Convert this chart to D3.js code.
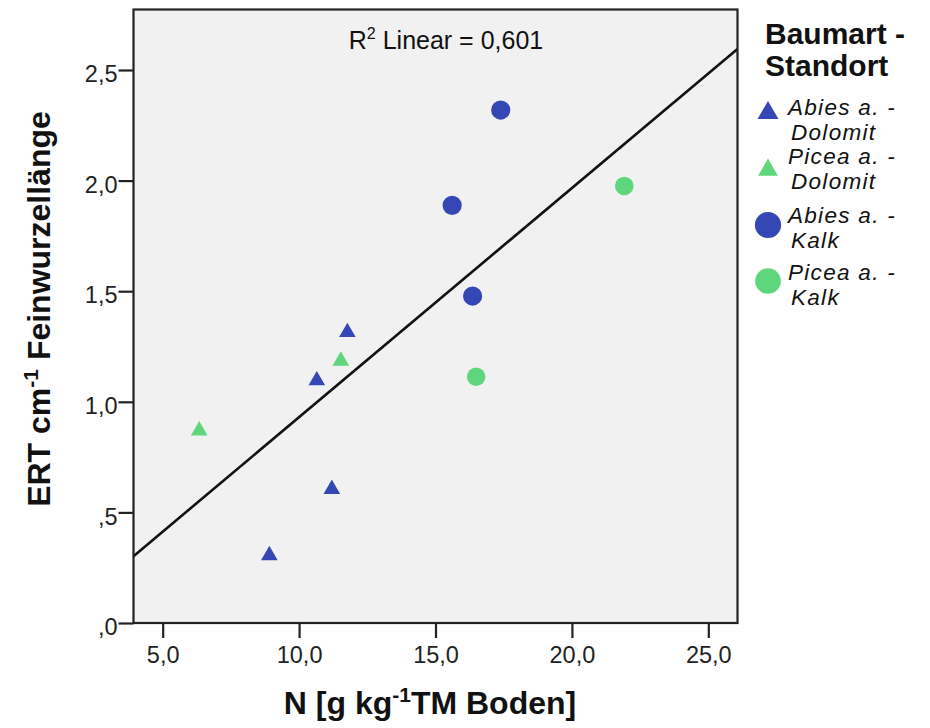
<!DOCTYPE html>
<html><head><meta charset="utf-8">
<script src="https://cdn.jsdelivr.net/npm/d3@7"></script>
<style>
html,body{margin:0;padding:0;background:#fff;}
svg{display:block;font-family:"Liberation Sans",Arial,sans-serif;}
</style></head>
<body><svg id="chart" width="930" height="728"></svg>
<script>
// ---- data ----
const seriesNames = ["Abies a. - Dolomit","Picea a. - Dolomit","Abies a. - Kalk","Picea a. - Kalk"];
const abiesDolomitX = [11.77, 10.65, 11.20, 8.91];
const abiesDolomitY = [1.321, 1.103, 0.612, 0.312];
const piceaDolomitX = [6.34, 11.53];
const piceaDolomitY = [0.876, 1.192];
const abiesKalkX = [17.39, 15.61, 16.36];
const abiesKalkY = [2.319, 1.888, 1.478];
const piceaKalkX = [21.92, 16.49];
const piceaKalkY = [1.976, 1.113];
const xTicks = [5, 10, 15, 20, 25];
const yTicks = [0, 0.5, 1.0, 1.5, 2.0, 2.5];
const r2Label = "0,601";

const legendLines = [["Abies a. -","Dolomit"],["Picea a. -","Dolomit"],["Abies a. -","Kalk"],["Picea a. -","Kalk"]];

// ---- styling ----
const BLUE = "#3547b5", GREEN = "#5fd67c";
const series = [
  {x: abiesDolomitX, y: abiesDolomitY, shape: d3.symbolTriangle, color: BLUE, size: 120, lsize: 190},
  {x: piceaDolomitX, y: piceaDolomitY, shape: d3.symbolTriangle, color: GREEN, size: 120, lsize: 170},
  {x: abiesKalkX, y: abiesKalkY, shape: d3.symbolCircle, color: BLUE, size: 290, lsize: 540},
  {x: piceaKalkX, y: piceaKalkY, shape: d3.symbolCircle, color: GREEN, size: 270, lsize: 520}
];

const L = 133.5, R = 737.5, T = 9.5, B = 623;
const svg = d3.select("#chart");
const x = d3.scaleLinear().domain([3.93, 26.07]).range([L, R]);
const y = d3.scaleLinear().domain([0, 2.7735]).range([B, T]);

const fmt = v => {
  let s = d3.format(".1f")(v).replace(".", ",");
  if (s.startsWith("0,")) s = s.slice(1);
  return s;
};

// plot background
svg.append("rect").attr("x", L).attr("y", T).attr("width", R - L).attr("height", B - T)
  .attr("fill", "#f1f1f1");

svg.append("defs").append("clipPath").attr("id", "clip")
  .append("rect").attr("x", L).attr("y", T).attr("width", R - L).attr("height", B - T);

// regression line (least squares over all points)
const allX = [].concat(...series.map(s => s.x));
const allY = [].concat(...series.map(s => s.y));
const mx = d3.mean(allX), my = d3.mean(allY);
const sxy = d3.sum(allX, (v, i) => (v - mx) * (allY[i] - my));
const sxx = d3.sum(allX, v => (v - mx) * (v - mx));
const slope = sxy / sxx, icpt = my - slope * mx;
const [x0, x1] = x.domain();
svg.append("line").attr("clip-path", "url(#clip)")
  .attr("x1", x(x0)).attr("y1", y(icpt + slope * x0))
  .attr("x2", x(x1)).attr("y2", y(icpt + slope * x1))
  .attr("stroke", "#111").attr("stroke-width", 2.6);

// points
series.forEach(s => {
  svg.append("g").selectAll("path").data(s.x.map((v, i) => [v, s.y[i]])).join("path")
    .attr("transform", d => `translate(${x(d[0])},${y(d[1]) + (s.shape === d3.symbolTriangle ? 1.5 : 0)})`)
    .attr("d", d3.symbol().type(s.shape).size(s.size))
    .attr("fill", s.color);
});

// frame
svg.append("rect").attr("x", L).attr("y", T).attr("width", R - L).attr("height", B - T)
  .attr("fill", "none").attr("stroke", "#222").attr("stroke-width", 2.2);

// axes
const xAxis = d3.axisBottom(x).tickValues(xTicks).tickFormat(fmt).tickSize(15).tickPadding(8);
const gx = svg.append("g").attr("transform", `translate(0,${B})`).call(xAxis);
gx.select(".domain").remove();
gx.selectAll(".tick line").attr("stroke", "#222").attr("stroke-width", 2.2);
gx.selectAll(".tick text").attr("font-size", 23.5).attr("fill", "#222")
  .attr("font-family", "Liberation Sans, Arial, sans-serif").attr("dy", "0.71em").attr("y", 23);

const yAxis = d3.axisLeft(y).tickValues(yTicks).tickFormat(fmt).tickSize(15).tickPadding(1);
const gy = svg.append("g").attr("transform", `translate(${L},0)`).call(yAxis);
gy.select(".domain").remove();
gy.selectAll(".tick line").attr("stroke", "#222").attr("stroke-width", 2.2);
gy.selectAll(".tick text").attr("font-size", 23.5).attr("fill", "#222")
  .attr("font-family", "Liberation Sans, Arial, sans-serif").attr("dy", "0.5em");

// R² label
const r2 = svg.append("text").attr("x", 446).attr("y", 48.5).attr("text-anchor", "middle")
  .attr("font-size", 25).attr("fill", "#111");
r2.append("tspan").text("R");
r2.append("tspan").attr("font-size", 16).attr("dy", -10).text("2");
r2.append("tspan").attr("dy", 10).text(" Linear = " + r2Label);

// axis titles
const yt = svg.append("text").attr("transform", "translate(50,309) rotate(-90)")
  .attr("text-anchor", "middle").attr("font-size", 32).attr("font-weight", "bold").attr("fill", "#111");
yt.append("tspan").text("ERT cm");
yt.append("tspan").attr("font-size", 21).attr("dy", -12).text("-1");
yt.append("tspan").attr("dy", 12).text(" Feinwurzellänge");

const xt = svg.append("text").attr("x", 430).attr("y", 714)
  .attr("text-anchor", "middle").attr("font-size", 32).attr("font-weight", "bold").attr("fill", "#111");
xt.append("tspan").text("N [g kg");
xt.append("tspan").attr("font-size", 21).attr("dy", -12).text("-1");
xt.append("tspan").attr("dy", 12).text("TM Boden]");

// legend
const lg = svg.append("g");
lg.append("text").attr("x", 765).attr("y", 44).attr("font-size", 30).attr("font-weight", "bold").attr("fill", "#111").text("Baumart -");
lg.append("text").attr("x", 765).attr("y", 76).attr("font-size", 30).attr("font-weight", "bold").attr("fill", "#111").text("Standort");
const rowBase = [115, 164, 223, 280];
const symY = [113, 170, 225, 281];
series.forEach((s, i) => {
  lg.append("path").attr("transform", `translate(768,${symY[i]})`)
    .attr("d", d3.symbol().type(s.shape).size(s.lsize)).attr("fill", s.color);
  const t = lg.append("text").attr("x", 788).attr("y", rowBase[i]).attr("font-size", 22.5)
    .attr("letter-spacing", 1.3).attr("font-style", "italic").attr("fill", "#111");
  t.append("tspan").attr("x", 788).text(legendLines[i][0]);
  t.append("tspan").attr("x", 791).attr("dy", 25).text(legendLines[i][1]);
});
</script>
</body></html>
